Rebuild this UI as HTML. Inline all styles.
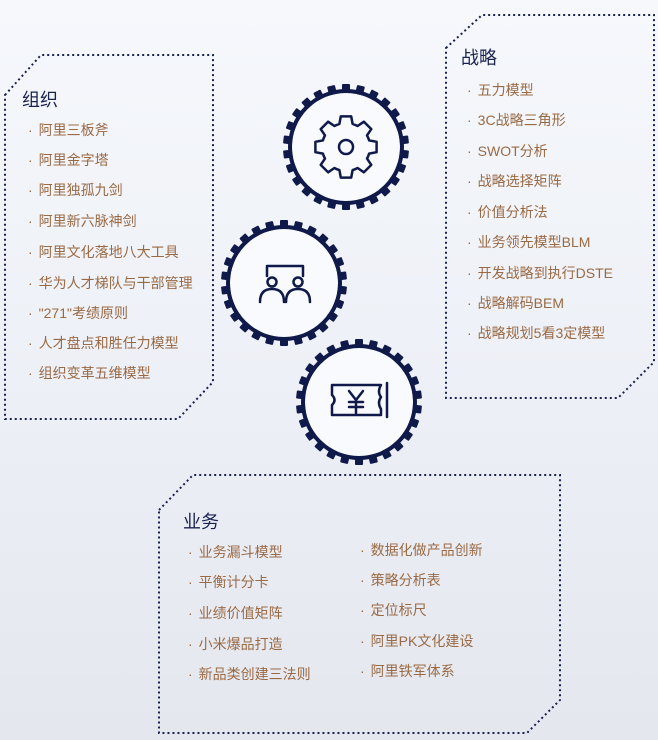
<!DOCTYPE html>
<html><head><meta charset="utf-8"><style>
body{margin:0;width:658px;height:740px;overflow:hidden;background:linear-gradient(#f6f8fc 0%,#eef1f7 45%,#e4e7ee 100%);font-family:"Liberation Sans","Noto Sans CJK SC",sans-serif;position:relative}
.t{position:absolute;color:#1a2250;font-size:18px;line-height:20px}
.i{position:absolute;color:#9a6a45;font-size:14px;line-height:16px;white-space:nowrap}
.i:before{content:"·";margin-right:6px;color:#9a6a45}
svg{position:absolute;left:0;top:0}
</style></head><body>
<svg width="658" height="740">
<g fill="none" stroke="#1a2250" stroke-width="2" stroke-dasharray="2 3">
<path d="M5 95 L41 55 L213 55 L213 382 L178 419 L5 419 Z"/>
<path d="M446 48 L482 15 L654 15 L654 362 L618 398 L446 398 Z"/>
<path d="M159 510 L193 475 L560 475 L560 700 L527 733 L159 733 Z"/>
</g>
<g id="g1" transform="translate(346,147)"></g>
<g id="g2" transform="translate(284,283)"></g>
<g id="g3" transform="translate(359,402)"></g>
<g fill="none" stroke="#0f1a4a" stroke-width="2.5" stroke-linejoin="round" stroke-linecap="round">
<circle cx="346" cy="147" r="7"/>
<path id="cog"/>
<path d="M267 276 V266 H303 V276"/>
<circle cx="272" cy="282" r="4.5"/><circle cx="298" cy="282" r="4.5"/>
<path d="M260 302 Q260 289 272 289 Q284 289 284 302"/>
<path d="M286 302 Q286 289 298 289 Q310 289 310 302"/>
<path d="M332 385 H381 Q377 392 381 397 Q377 403 381 409 V415 H332 V405 Q337 400 332 395 Z"/>
<path d="M387 383 V417"/>
<path d="M349 391 L356 400 L363 391 M356 400 V413 M349 402 H363 M349 407 H363"/>
</g>
</svg>
<div class="t" style="left:22px;top:90px">组织</div>
<div class="i" style="left:28px;top:122px">阿里三板斧</div>
<div class="i" style="left:28px;top:152px">阿里金字塔</div>
<div class="i" style="left:28px;top:182px">阿里独孤九剑</div>
<div class="i" style="left:28px;top:213px">阿里新六脉神剑</div>
<div class="i" style="left:28px;top:244px">阿里文化落地八大工具</div>
<div class="i" style="left:28px;top:275px">华为人才梯队与干部管理</div>
<div class="i" style="left:28px;top:305px">"271"考绩原则</div>
<div class="i" style="left:28px;top:335px">人才盘点和胜任力模型</div>
<div class="i" style="left:28px;top:365px">组织变革五维模型</div>
<div class="t" style="left:461px;top:48px">战略</div>
<div class="i" style="left:467px;top:82px">五力模型</div>
<div class="i" style="left:467px;top:112px">3C战略三角形</div>
<div class="i" style="left:467px;top:143px">SWOT分析</div>
<div class="i" style="left:467px;top:173px">战略选择矩阵</div>
<div class="i" style="left:467px;top:204px">价值分析法</div>
<div class="i" style="left:467px;top:234px">业务领先模型BLM</div>
<div class="i" style="left:467px;top:265px">开发战略到执行DSTE</div>
<div class="i" style="left:467px;top:295px">战略解码BEM</div>
<div class="i" style="left:467px;top:325px">战略规划5看3定模型</div>
<div class="t" style="left:183px;top:512px">业务</div>
<div class="i" style="left:188px;top:544px">业务漏斗模型</div>
<div class="i" style="left:188px;top:574px">平衡计分卡</div>
<div class="i" style="left:188px;top:605px">业绩价值矩阵</div>
<div class="i" style="left:188px;top:636px">小米爆品打造</div>
<div class="i" style="left:188px;top:666px">新品类创建三法则</div>
<div class="i" style="left:360px;top:542px">数据化做产品创新</div>
<div class="i" style="left:360px;top:572px">策略分析表</div>
<div class="i" style="left:360px;top:602px">定位标尺</div>
<div class="i" style="left:360px;top:633px">阿里PK文化建设</div>
<div class="i" style="left:360px;top:663px">阿里铁军体系</div>
<script>
var ns="http://www.w3.org/2000/svg";
["g1","g2","g3"].forEach(function(id){
 var g=document.getElementById(id);
 var c=document.createElementNS(ns,"circle");c.setAttribute("r","56");c.setAttribute("fill","#f8fafd");c.setAttribute("stroke","#0f1a4a");c.setAttribute("stroke-width","4");g.appendChild(c);
 for(var k=0;k<26;k++){var r=document.createElementNS(ns,"rect");r.setAttribute("x","-4");r.setAttribute("y","-63");r.setAttribute("width","8");r.setAttribute("height","9");r.setAttribute("rx","1");r.setAttribute("fill","#0f1a4a");r.setAttribute("transform","rotate("+(k*360/26)+")");g.appendChild(r);}
});
var d="",n=8,cx=346,cy=147;
for(var k=0;k<n;k++){var a=k*2*Math.PI/n;
 var pts=[[a-0.28,24],[a-0.17,31],[a+0.17,31],[a+0.28,24]];
 pts.forEach(function(p,j){var x=cx+p[1]*Math.cos(p[0]),y=cy+p[1]*Math.sin(p[0]);d+=(k==0&&j==0?"M":"L")+x.toFixed(1)+" "+y.toFixed(1)+" ";});
 var a2=a+2*Math.PI/n-0.28;d+="A24 24 0 0 1 "+(cx+24*Math.cos(a2)).toFixed(1)+" "+(cy+24*Math.sin(a2)).toFixed(1)+" ";}
document.getElementById("cog").setAttribute("d",d+"Z");
</script>
</body></html>
